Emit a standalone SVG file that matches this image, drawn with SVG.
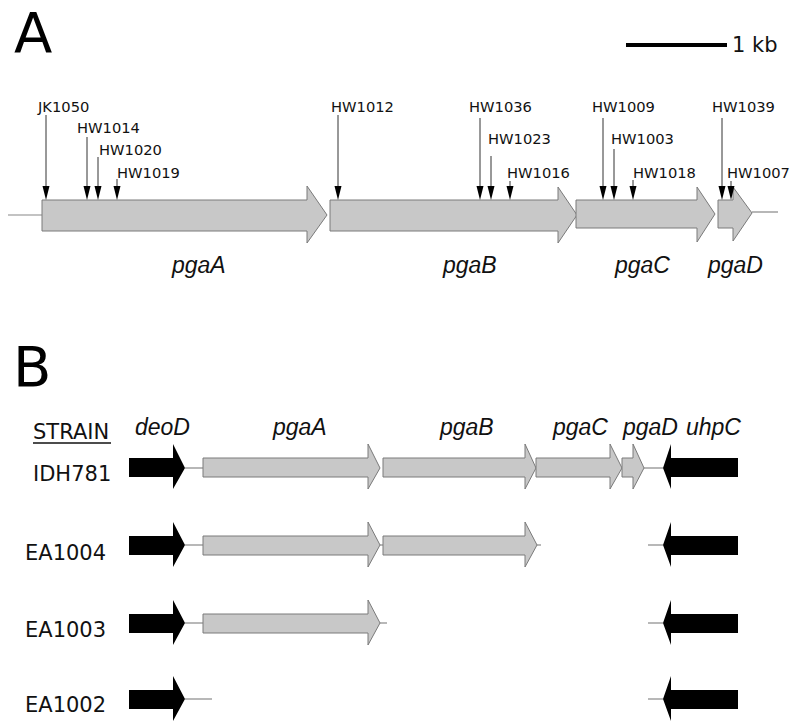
<svg xmlns="http://www.w3.org/2000/svg" width="800" height="728" viewBox="0 0 800 728">
<style>
.panel{font-family:"DejaVu Sans",sans-serif;font-size:56px;fill:#000}
.mk{font-family:"DejaVu Sans",sans-serif;font-size:14.7px;fill:#111}
.gene{font-family:"Liberation Sans",Arial,sans-serif;font-style:italic;font-size:23px;fill:#111}
.strain{font-family:"DejaVu Sans",sans-serif;font-size:21px;fill:#111}
.g{fill:#c8c8c8;stroke:#7a7a7a;stroke-width:1}
.k{fill:#000}
.bb{stroke:#888;stroke-width:1.2;fill:none}
.ml{stroke:#333;stroke-width:1;fill:none}
.tri{fill:#000}
</style>
<rect width="800" height="728" fill="#fff"/>
<text class="panel" x="14" y="52">A</text>
<text class="panel" x="13" y="386">B</text>
<g id="scalebar">
<line x1="626" y1="45" x2="727" y2="45" stroke="#000" stroke-width="4"/>
<text x="732" y="52" style="font-family:'DejaVu Sans',sans-serif;font-size:21px" fill="#111">1 kb</text>
</g>
<g id="connectors">
<line class="bb" x1="8" y1="215" x2="42" y2="215"/>
<line class="bb" x1="752" y1="212" x2="778" y2="212"/>
<line class="bb" x1="185" y1="468" x2="203" y2="468"/>
<line class="bb" x1="644" y1="468" x2="663" y2="468"/>
<line class="bb" x1="185" y1="545" x2="203" y2="545"/>
<line class="bb" x1="380" y1="545" x2="383" y2="545"/>
<line class="bb" x1="537" y1="545" x2="541" y2="545"/>
<line class="bb" x1="648" y1="545" x2="663" y2="545"/>
<line class="bb" x1="185" y1="623" x2="203" y2="623"/>
<line class="bb" x1="380" y1="623" x2="387" y2="623"/>
<line class="bb" x1="648" y1="623" x2="663" y2="623"/>
<line class="bb" x1="185" y1="699" x2="212" y2="699"/>
<line class="bb" x1="648" y1="699" x2="663" y2="699"/>
</g>
<g id="panelA-genes">
<polygon class="g" points="42,200 307,200 307,186 327,215 307,243 307,231 42,231"/>
<polygon class="g" points="330,200 558,200 558,187 577,215 558,243 558,231 330,231"/>
<polygon class="g" points="576,200 697,200 697,187 715,214 697,242 697,228 576,228"/>
<polygon class="g" points="718,200 733,200 733,187 752,213 733,241 733,228 718,228"/>
<text class="gene" x="172" y="273">pgaA</text>
<text class="gene" x="443" y="273">pgaB</text>
<text class="gene" x="615" y="273">pgaC</text>
<text class="gene" x="708" y="273">pgaD</text>
</g>
<g id="markers">
<g id="m-JK1050"><line class="ml" x1="46" y1="115" x2="46" y2="188"/><polygon class="tri" points="42.5,186 49.5,186 46,200"/><text class="mk" x="38" y="112">JK1050</text></g>
<g id="m-HW1014"><line class="ml" x1="87" y1="137" x2="87" y2="188"/><polygon class="tri" points="83.5,186 90.5,186 87,200"/><text class="mk" x="77" y="133">HW1014</text></g>
<g id="m-HW1020"><line class="ml" x1="98" y1="157" x2="98" y2="188"/><polygon class="tri" points="94.5,186 101.5,186 98,200"/><text class="mk" x="99" y="155">HW1020</text></g>
<g id="m-HW1019"><line class="ml" x1="117" y1="179" x2="117" y2="188"/><polygon class="tri" points="113.5,186 120.5,186 117,200"/><text class="mk" x="117" y="178">HW1019</text></g>
<g id="m-HW1012"><line class="ml" x1="338" y1="115" x2="338" y2="188"/><polygon class="tri" points="334.5,186 341.5,186 338,200"/><text class="mk" x="331" y="112">HW1012</text></g>
<g id="m-HW1036"><line class="ml" x1="480" y1="118" x2="480" y2="188"/><polygon class="tri" points="476.5,186 483.5,186 480,200"/><text class="mk" x="469" y="112">HW1036</text></g>
<g id="m-HW1023"><line class="ml" x1="491" y1="156" x2="491" y2="188"/><polygon class="tri" points="487.5,186 494.5,186 491,200"/><text class="mk" x="488" y="144">HW1023</text></g>
<g id="m-HW1016"><line class="ml" x1="510" y1="181" x2="510" y2="188"/><polygon class="tri" points="506.5,186 513.5,186 510,200"/><text class="mk" x="507" y="178">HW1016</text></g>
<g id="m-HW1009"><line class="ml" x1="603" y1="118" x2="603" y2="188"/><polygon class="tri" points="599.5,186 606.5,186 603,200"/><text class="mk" x="592" y="112">HW1009</text></g>
<g id="m-HW1003"><line class="ml" x1="614" y1="149" x2="614" y2="188"/><polygon class="tri" points="610.5,186 617.5,186 614,200"/><text class="mk" x="611" y="144">HW1003</text></g>
<g id="m-HW1018"><line class="ml" x1="633" y1="180" x2="633" y2="188"/><polygon class="tri" points="629.5,186 636.5,186 633,200"/><text class="mk" x="633" y="178">HW1018</text></g>
<g id="m-HW1039"><line class="ml" x1="722" y1="118" x2="722" y2="188"/><polygon class="tri" points="718.5,186 725.5,186 722,200"/><text class="mk" x="712" y="112">HW1039</text></g>
<g id="m-HW1007"><line class="ml" x1="731" y1="181" x2="731" y2="188"/><polygon class="tri" points="727.5,186 734.5,186 731,200"/><text class="mk" x="727" y="178">HW1007</text></g>
</g>
<g id="panelB-header">
<text class="strain" x="33" y="439">STRAIN</text>
<line x1="33" y1="443" x2="111" y2="443" stroke="#111" stroke-width="1.3"/>
<text class="gene" x="135" y="435">deoD</text>
<text class="gene" x="273" y="435">pgaA</text>
<text class="gene" x="440" y="435">pgaB</text>
<text class="gene" x="553" y="435">pgaC</text>
<text class="gene" x="623" y="435">pgaD</text>
<text class="gene" x="686" y="435">uhpC</text>
</g>
<g id="row-IDH781">
<text class="strain" x="33" y="481">IDH781</text>
<polygon class="k" points="129,458 173,458 173,444 185,468 173,489 173,477 129,477"/>
<polygon class="g" points="203,458 368,458 368,444 380,468 368,489 368,477 203,477"/>
<polygon class="g" points="383,458 525,458 525,444 536,468 525,489 525,477 383,477"/>
<polygon class="g" points="536,458 610,458 610,444 622,468 610,489 610,477 536,477"/>
<polygon class="g" points="622,458 633,458 633,444 644,468 633,489 633,477 622,477"/>
<polygon class="k" points="738,458 671,458 671,444 663,468 671,489 671,477 738,477"/>
</g>
<g id="row-EA1004">
<text class="strain" x="25" y="560">EA1004</text>
<polygon class="k" points="129,536 173,536 173,522 185,545 173,567 173,555 129,555"/>
<polygon class="g" points="203,536 368,536 368,522 380,545 368,567 368,555 203,555"/>
<polygon class="g" points="383,536 525,536 525,522 537,545 525,567 525,555 383,555"/>
<polygon class="k" points="738,536 671,536 671,522 663,545 671,567 671,555 738,555"/>
</g>
<g id="row-EA1003">
<text class="strain" x="25" y="637">EA1003</text>
<polygon class="k" points="129,614 173,614 173,600 185,623 173,645 173,633 129,633"/>
<polygon class="g" points="203,614 368,614 368,600 380,623 368,645 368,633 203,633"/>
<polygon class="k" points="738,614 671,614 671,600 663,623 671,645 671,633 738,633"/>
</g>
<g id="row-EA1002">
<text class="strain" x="25" y="712">EA1002</text>
<polygon class="k" points="129,690 173,690 173,676 185,699 173,721 173,709 129,709"/>
<polygon class="k" points="738,690 671,690 671,676 663,699 671,721 671,709 738,709"/>
</g>
</svg>
